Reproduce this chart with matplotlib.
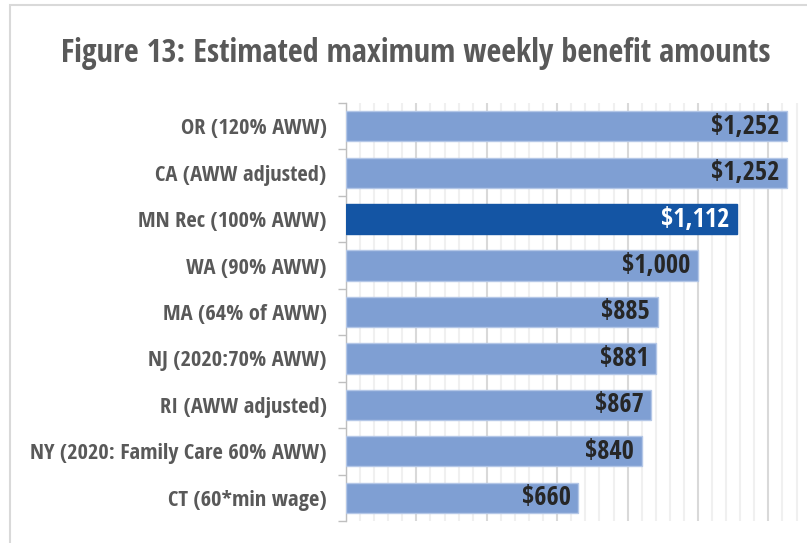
import matplotlib
matplotlib.use("Agg")
import matplotlib.pyplot as plt
from matplotlib.patches import Rectangle
from matplotlib.ticker import MultipleLocator

categories = ["OR (120% AWW)", "CA (AWW adjusted)", "MN Rec (100% AWW)", "WA (90% AWW)",
              "MA (64% of AWW)", "NJ (2020:70% AWW)", "RI (AWW adjusted)",
              "NY (2020: Family Care 60% AWW)", "CT (60*min wage)"]
values = [1252, 1252, 1112, 1000, 885, 881, 867, 840, 660]
highlight = "MN Rec (100% AWW)"
title = "Figure 13: Estimated maximum weekly benefit amounts"

W, H = 807, 543
fig = plt.figure(figsize=(W / 100, H / 100), dpi=100)
FONT = ["Open Sans Condensed", "Archivo Narrow", "DejaVu Sans"]

# chart-area border (cropped)
fig.patches.append(Rectangle((10 / W, -0.1), 1.2, (H - 5) / H + 0.1, transform=fig.transFigure,
                             fill=False, edgecolor="#D9D9D9", linewidth=1.5))

left, right_px, top, bottom = 346, 346 + 1400 * 0.352, 103, 521
ax = fig.add_axes([left / W, (H - bottom) / H, (right_px - left) / W, (bottom - top) / H])

light = "#7F9FD3"
dark = "#1455A4"
ypos = list(range(len(categories)))
colors = [dark if c == highlight else light for c in categories]
edges = ["#1455A4" if c == highlight else "#B4C7E7" for c in categories]
ax.barh(ypos, values, height=0.65, color=colors, edgecolor=edges, linewidth=1, zorder=3)

for y, v, c in zip(ypos, values, categories):
    ax.text(v - 22, y, f"${v:,}", ha="right", va="center", fontsize=19, fontweight="bold",
            family=FONT, color="white" if c == highlight else "#262626", zorder=4)

ax.set_xlim(0, 1400)
ax.set_ylim(len(categories) - 0.5, -0.5)
ax.xaxis.set_major_locator(MultipleLocator(200))
ax.xaxis.set_minor_locator(MultipleLocator(40))
ax.grid(axis="x", which="minor", color="#F0F0F0", linewidth=1.5, zorder=0)
ax.grid(axis="x", which="major", color="#D9D9D9", linewidth=1.5, zorder=1)
ax.tick_params(axis="x", which="both", length=0, labelbottom=False)

ax.set_yticks(ypos)
ax.set_yticklabels(categories, fontsize=16.2, fontweight="bold", family=FONT, color="#595959")
ax.set_yticks([y - 0.5 for y in ypos] + [len(categories) - 0.5], minor=True)
ax.tick_params(axis="y", which="major", length=0, pad=14)
ax.tick_params(axis="y", which="minor", length=6, width=1, color="#BFBFBF", direction="out")

for s in ["top", "right", "bottom"]:
    ax.spines[s].set_visible(False)
ax.spines["left"].set_color("#BFBFBF")
ax.spines["left"].set_linewidth(1)

fig.text(416 / W, (H - 54) / H, title, ha="center", va="center", fontsize=23.2,
         fontweight="bold", family=FONT, color="#595959")

fig.savefig("out.png", dpi=100)
